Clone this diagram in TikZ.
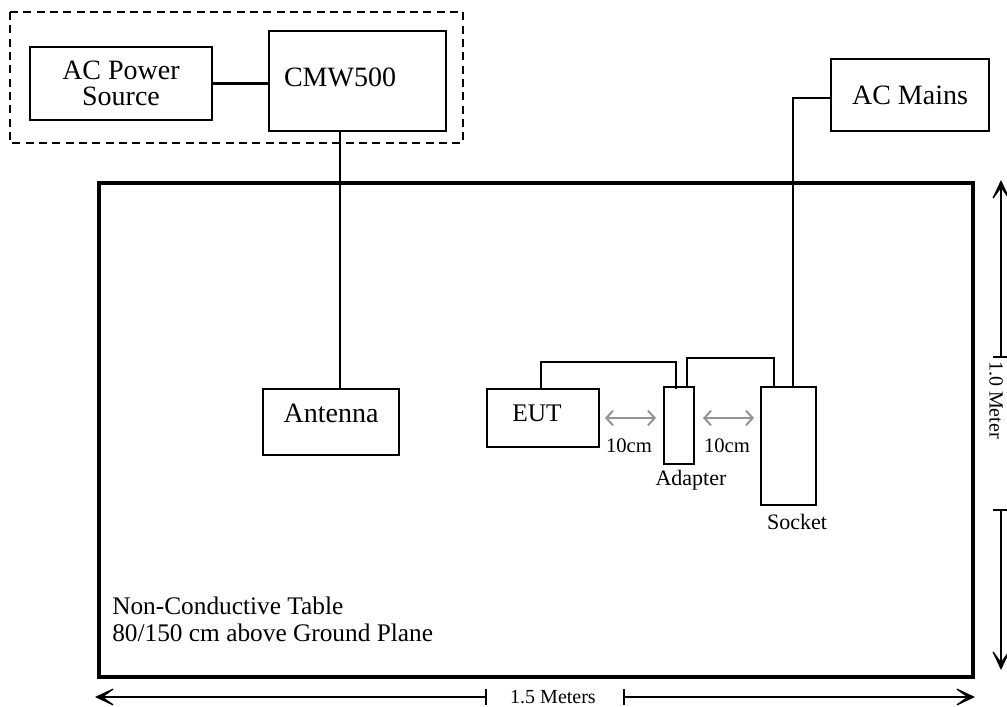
\documentclass[tikz,border=0pt]{standalone}
\usepackage{fontspec}
\setmainfont{Liberation Serif}
\usetikzlibrary{arrows.meta}

\begin{document}
\begin{tikzpicture}[x=0.75pt, y=-0.75pt,
    box/.style={draw, line width=1.5pt, inner sep=0pt},
    wire/.style={line width=1.5pt},
    dimline/.style={line width=0.9pt},
    dimtip/.style={-{Stealth[length=18pt, width=17pt, inset=12pt]}},
    gap/.style={black!42, line width=1.5pt,
        {Straight Barb[length=5pt, width=11pt]}-{Straight Barb[length=5pt, width=11pt]}},
    big/.style={font=\fontsize{21}{19.5}\selectfont},
    small/.style={font=\fontsize{16.5}{18}\selectfont}]
    \useasboundingbox (0,0) rectangle (1007,707);
    \clip (0,0) rectangle (1007,707);

    % test equipment
    \draw[line width=1.3pt, dash pattern=on 6pt off 4pt] (10,12) rectangle (463,143);
    \node[box, big, align=center, minimum width=136.5pt, minimum height=54.75pt] (src) at (121,83.5) {AC Power\\Source};
    \node[box, minimum width=132.75pt, minimum height=75pt] (cmw) at (357.5,81) {};
    \node[big] (cmwtxt) at (340,77) {CMW500};
    \draw[line width=2.5pt] (src.east) -- (src.east -| cmw.west);

    \node[box, big, minimum width=118.5pt, minimum height=54pt] (mains) at (910,95) {AC Mains};

    % table
    \draw[line width=2.3pt] (99,183) rectangle (973,677);
    \node[anchor=north west, inner sep=0pt, align=left, font=\fontsize{19}{20.25}\selectfont] (tbl) at (112,597) {Non-Conductive Table\\80/150 cm above Ground Plane};

    % antenna
    \node[box, minimum width=102pt, minimum height=49.5pt] (ant) at (331,422) {};
    \node[big] (anttxt) at (331,413) {Antenna};
    \draw[line width=1pt] (cmw.south -| 340,0) -- (ant.north -| 340,0);

    % EUT, adapter, socket
    \node[box, minimum width=84pt, minimum height=43.5pt] (eut) at (543,418) {};
    \node[font=\fontsize{19}{21}\selectfont] (euttxt) at (537,413) {EUT};
    \node[box, minimum width=22.5pt, minimum height=57.75pt] (adp) at (679,425.5) {};
    \node[box, minimum width=41.25pt, minimum height=88.5pt] (sock) at (788.5,446) {};
    \node[small] (adptxt) at (691,480) {Adapter};
    \node[small] (socktxt) at (797,522) {Socket};

    % cables
    \coordinate (adpin) at (676,389);
    \draw[wire] (eut.north -| 541,0) -- (541,362) -| (adpin);
    \draw[wire] (adp.north -| 687,0) -- (687,358) -| (sock.north -| 774,0);
    \draw[wire] (mains.west |- 0,98) -| (sock.north -| 793,0);

    % 10cm spacing
    \draw[gap, shorten <=3.75pt, shorten >=5.25pt] (eut.east |- 0,418) -- (adp.west |- 0,418);
    \draw[gap, shorten <=6pt, shorten >=4.5pt] (adp.east |- 0,418) -- (sock.west |- 0,418);
    \node[font=\fontsize{15.5}{17}\selectfont] (gap1) at (629,446) {10cm};
    \node[font=\fontsize{15.5}{17}\selectfont] (gap2) at (727,446) {10cm};

    % table size
    \coordinate (wl) at (95,697);
    \coordinate (wa) at (486,697);
    \coordinate (wb) at (624,697);
    \coordinate (wr) at (975,697);
    \node[font=\fontsize{15}{17}\selectfont] (wtxt) at (553,697) {1.5 Meters};
    \draw[dimline, dimtip] (wa) -- (wl);
    \draw[dimline, dimtip] (wb) -- (wr);
    \draw[dimline] (wa) ++(0,-8) -- ++(0,16);
    \draw[dimline] (wb) ++(0,-8) -- ++(0,16);

    \coordinate (ht) at (1001,180);
    \coordinate (ha) at (1001,357);
    \coordinate (hb) at (1001,510);
    \coordinate (hbot) at (1001,670);
    \node[rotate=-90, inner sep=1pt, font=\fontsize{15}{17}\selectfont] (htxt) at (996,400) {1.0 Meter};
    \draw[dimline, dimtip] (ha) -- (ht);
    \draw[dimline, dimtip] (hb) -- (hbot);
    \draw[dimline] (ha) ++(-8,0) -- ++(16,0);
    \draw[dimline] (hb) ++(-8,0) -- ++(16,0);
\end{tikzpicture}
\end{document}
